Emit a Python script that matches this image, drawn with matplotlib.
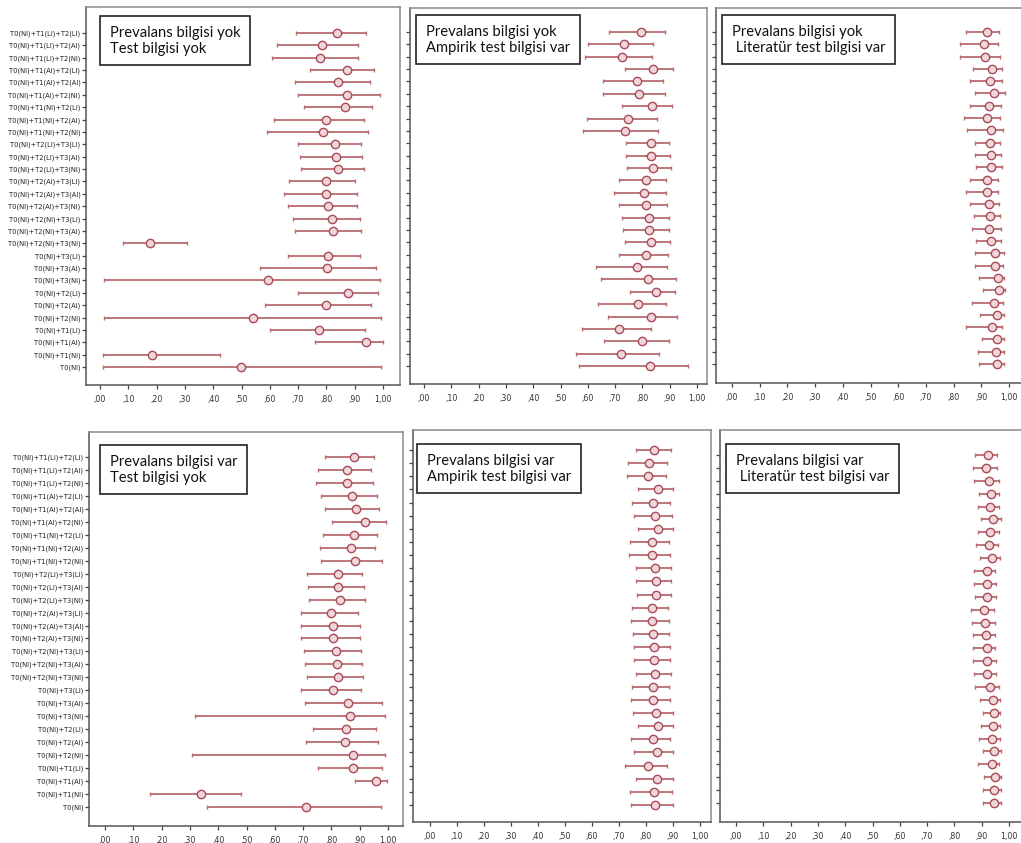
import matplotlib
matplotlib.use("Agg")
import matplotlib.pyplot as plt
import numpy as np
from matplotlib import font_manager
from matplotlib.ticker import FuncFormatter

# categories, top to bottom
CATEGORIES = [
    "T0(NI)+T1(LI)+T2(LI)", "T0(NI)+T1(LI)+T2(AI)", "T0(NI)+T1(LI)+T2(NI)",
    "T0(NI)+T1(AI)+T2(LI)", "T0(NI)+T1(AI)+T2(AI)", "T0(NI)+T1(AI)+T2(NI)",
    "T0(NI)+T1(NI)+T2(LI)", "T0(NI)+T1(NI)+T2(AI)", "T0(NI)+T1(NI)+T2(NI)",
    "T0(NI)+T2(LI)+T3(LI)", "T0(NI)+T2(LI)+T3(AI)", "T0(NI)+T2(LI)+T3(NI)",
    "T0(NI)+T2(AI)+T3(LI)", "T0(NI)+T2(AI)+T3(AI)", "T0(NI)+T2(AI)+T3(NI)",
    "T0(NI)+T2(NI)+T3(LI)", "T0(NI)+T2(NI)+T3(AI)", "T0(NI)+T2(NI)+T3(NI)",
    "T0(NI)+T3(LI)", "T0(NI)+T3(AI)", "T0(NI)+T3(NI)",
    "T0(NI)+T2(LI)", "T0(NI)+T2(AI)", "T0(NI)+T2(NI)",
    "T0(NI)+T1(LI)", "T0(NI)+T1(AI)", "T0(NI)+T1(NI)", "T0(NI)",
]

TITLES = [
    "Prevalans bilgisi yok\nTest bilgisi yok",
    "Prevalans bilgisi yok\nAmpirik test bilgisi var",
    "Prevalans bilgisi yok\n Literatür test bilgisi var",
    "Prevalans bilgisi var\nTest bilgisi yok",
    "Prevalans bilgisi var\nAmpirik test bilgisi var",
    "Prevalans bilgisi var\n Literatür test bilgisi var",
]

# panel 1: prevalence unknown, no test info
mean_1 = [0.839, 0.786, 0.779, 0.874, 0.842, 0.873, 0.865, 0.798, 0.789,
          0.831, 0.833, 0.840, 0.800, 0.799, 0.805, 0.820, 0.824, 0.175,
          0.806, 0.801, 0.594, 0.875, 0.798, 0.539, 0.773, 0.939, 0.182, 0.498]
low_1 = [0.694, 0.627, 0.608, 0.741, 0.688, 0.700, 0.720, 0.615, 0.591,
         0.698, 0.706, 0.712, 0.668, 0.649, 0.665, 0.682, 0.688, 0.082,
         0.666, 0.565, 0.015, 0.700, 0.582, 0.014, 0.600, 0.761, 0.012, 0.012]
high_1 = [0.939, 0.912, 0.912, 0.968, 0.955, 0.988, 0.961, 0.932, 0.947,
          0.924, 0.927, 0.932, 0.902, 0.908, 0.908, 0.918, 0.921, 0.308,
          0.918, 0.974, 0.991, 0.982, 0.956, 0.992, 0.938, 1.000, 0.424, 0.992]

# panel 2: prevalence unknown, empirical test info
mean_2 = [0.795, 0.733, 0.725, 0.837, 0.780, 0.787, 0.834, 0.747, 0.737,
          0.831, 0.833, 0.837, 0.813, 0.807, 0.812, 0.825, 0.826, 0.833,
          0.813, 0.782, 0.819, 0.850, 0.784, 0.831, 0.715, 0.797, 0.722, 0.829]
low_2 = [0.676, 0.599, 0.588, 0.735, 0.655, 0.655, 0.727, 0.597, 0.582,
         0.740, 0.740, 0.743, 0.715, 0.697, 0.713, 0.725, 0.729, 0.735,
         0.713, 0.631, 0.649, 0.753, 0.639, 0.674, 0.578, 0.660, 0.556, 0.566]
high_2 = [0.882, 0.839, 0.835, 0.911, 0.874, 0.884, 0.908, 0.853, 0.856,
          0.899, 0.902, 0.905, 0.886, 0.886, 0.890, 0.899, 0.899, 0.902,
          0.892, 0.890, 0.923, 0.921, 0.886, 0.927, 0.831, 0.896, 0.862, 0.966]

# panel 3: prevalence unknown, literature test info
mean_3 = [0.920, 0.908, 0.914, 0.939, 0.932, 0.946, 0.929, 0.919, 0.936,
          0.931, 0.934, 0.936, 0.921, 0.919, 0.927, 0.932, 0.929, 0.936,
          0.949, 0.951, 0.959, 0.964, 0.945, 0.956, 0.938, 0.956, 0.953, 0.956]
low_3 = [0.844, 0.822, 0.822, 0.871, 0.859, 0.876, 0.859, 0.838, 0.847,
         0.879, 0.879, 0.882, 0.861, 0.844, 0.861, 0.873, 0.867, 0.882,
         0.876, 0.876, 0.892, 0.906, 0.866, 0.894, 0.844, 0.902, 0.888, 0.892]
high_3 = [0.965, 0.959, 0.968, 0.976, 0.974, 0.986, 0.971, 0.968, 0.979,
          0.968, 0.972, 0.974, 0.962, 0.961, 0.965, 0.967, 0.971, 0.971,
          0.982, 0.979, 0.982, 0.986, 0.979, 0.982, 0.976, 0.982, 0.982, 0.982]

# panel 4: prevalence known, no test info
mean_4 = [0.879, 0.856, 0.856, 0.873, 0.886, 0.918, 0.879, 0.868, 0.885,
          0.824, 0.825, 0.829, 0.800, 0.806, 0.806, 0.815, 0.821, 0.824,
          0.806, 0.859, 0.867, 0.853, 0.847, 0.876, 0.876, 0.956, 0.339, 0.712]
low_4 = [0.776, 0.753, 0.747, 0.762, 0.779, 0.802, 0.771, 0.761, 0.765,
         0.715, 0.718, 0.721, 0.694, 0.694, 0.694, 0.702, 0.708, 0.714,
         0.694, 0.708, 0.318, 0.735, 0.712, 0.309, 0.753, 0.882, 0.159, 0.361]
high_4 = [0.951, 0.939, 0.947, 0.961, 0.968, 0.992, 0.961, 0.955, 0.980,
          0.908, 0.914, 0.918, 0.894, 0.902, 0.900, 0.906, 0.909, 0.912,
          0.904, 0.979, 0.988, 0.956, 0.965, 0.988, 0.980, 0.996, 0.479, 0.976]

# panel 5: prevalence known, empirical test info
mean_5 = [0.831, 0.811, 0.809, 0.843, 0.827, 0.833, 0.843, 0.821, 0.823,
          0.833, 0.836, 0.837, 0.823, 0.823, 0.826, 0.830, 0.831, 0.833,
          0.825, 0.827, 0.836, 0.843, 0.825, 0.840, 0.809, 0.840, 0.830, 0.833]
low_5 = [0.762, 0.732, 0.728, 0.769, 0.749, 0.756, 0.769, 0.741, 0.738,
         0.762, 0.763, 0.765, 0.749, 0.744, 0.751, 0.756, 0.757, 0.762,
         0.749, 0.744, 0.753, 0.769, 0.743, 0.757, 0.722, 0.763, 0.741, 0.743]
high_5 = [0.891, 0.877, 0.873, 0.899, 0.889, 0.895, 0.899, 0.886, 0.889,
          0.891, 0.891, 0.893, 0.883, 0.885, 0.886, 0.889, 0.889, 0.891,
          0.886, 0.889, 0.899, 0.901, 0.889, 0.901, 0.877, 0.901, 0.895, 0.899]

# panel 6: prevalence known, literature test info
mean_6 = [0.924, 0.917, 0.925, 0.935, 0.932, 0.942, 0.931, 0.928, 0.936,
          0.918, 0.920, 0.921, 0.909, 0.913, 0.916, 0.918, 0.918, 0.919,
          0.931, 0.942, 0.945, 0.943, 0.939, 0.945, 0.938, 0.948, 0.946, 0.946]
low_6 = [0.875, 0.869, 0.873, 0.891, 0.885, 0.899, 0.885, 0.878, 0.894,
         0.873, 0.873, 0.875, 0.861, 0.863, 0.867, 0.869, 0.869, 0.873,
         0.875, 0.895, 0.905, 0.899, 0.891, 0.903, 0.887, 0.907, 0.905, 0.905]
high_6 = [0.956, 0.955, 0.962, 0.964, 0.964, 0.970, 0.962, 0.961, 0.968,
          0.950, 0.952, 0.952, 0.944, 0.950, 0.950, 0.950, 0.952, 0.952,
          0.964, 0.968, 0.968, 0.968, 0.968, 0.970, 0.964, 0.970, 0.970, 0.970]

SERIES = [
    (mean_1, low_1, high_1), (mean_2, low_2, high_2), (mean_3, low_3, high_3),
    (mean_4, low_4, high_4), (mean_5, low_5, high_5), (mean_6, low_6, high_6),
]
X_TICKS = [0.0, 0.1, 0.2, 0.3, 0.4, 0.5, 0.6, 0.7, 0.8, 0.9, 1.0]

# layout in pixels: frame left/right/top/bottom, px of x=0 and x=1,
# px of first and last row, and the label box top-left corner
FIG_W, FIG_H = 1021, 843
PANELS = [
    dict(l=86, r=400, t=7, b=385, x0=100, x1=383, y0=33, y1=367, box=(100, 17)),
    dict(l=410, r=707, t=8, b=384, x0=424, x1=697, y0=32, y1=366, box=(416, 16)),
    dict(l=716, r=1021, t=8, b=383, x0=732, x1=1009, y0=32, y1=364, box=(722, 16)),
    dict(l=89, r=403, t=432, b=826, x0=105, x1=388, y0=457, y1=807, box=(100, 446)),
    dict(l=413, r=711, t=430, b=822, x0=430, x1=700, y0=450, y1=805, box=(417, 445)),
    dict(l=720, r=1021, t=430, b=822, x0=736, x1=1009, y0=455, y1=803, box=(726, 445)),
]

LINE_COLOR = "#b86b70"
MARKER_EDGE = "#a84c58"
MARKER_FACE = "#f0d6d8"
CAP_COLOR = "#6e5a5c"
SPINE_COLOR = "#555555"

fonts = font_manager.fontManager.ttflist
available = {f.name for f in fonts}
has_dejavu_condensed = any(f.name == "DejaVu Sans" and f.stretch == "condensed" for f in fonts)
if "Liberation Sans Narrow" in available:
    TICK_FONT = dict(family="Liberation Sans Narrow", fontsize=6.0)
elif has_dejavu_condensed:
    TICK_FONT = dict(family="DejaVu Sans", fontstretch="condensed", fontsize=5.4)
else:
    TICK_FONT = dict(family="Liberation Sans", fontsize=5.15)
BOX_FONT = "Lato" if "Lato" in available else "DejaVu Sans"


def comma_fmt(v, _pos):
    s = f"{v:.2f}".replace(".", ",")
    if s.startswith("0,"):
        s = s[1:]
    return s


def draw_panel(fig, idx):
    p = PANELS[idx]
    means, lows, highs = (np.asarray(a) for a in SERIES[idx])
    ax = fig.add_axes([
        p["l"] / FIG_W,
        1 - p["b"] / FIG_H,
        (p["r"] - p["l"]) / FIG_W,
        (p["b"] - p["t"]) / FIG_H,
    ])

    unit = p["x1"] - p["x0"]
    ax.set_xlim((p["l"] - p["x0"]) / unit, (p["r"] - p["x0"]) / unit)
    step = (p["y1"] - p["y0"]) / (len(CATEGORIES) - 1)
    ax.set_ylim(len(CATEGORIES) - 1 + (p["b"] - p["y1"]) / step,
                -(p["y0"] - p["t"]) / step)

    y = np.arange(len(CATEGORIES))
    _line, caps, _bars = ax.errorbar(
        means, y, xerr=[means - lows, highs - means],
        fmt="o", color=LINE_COLOR, ecolor=LINE_COLOR, elinewidth=1.3,
        capsize=1.6, capthick=1.2, markersize=6,
        markeredgecolor=MARKER_EDGE, markerfacecolor=MARKER_FACE,
        markeredgewidth=1.0, zorder=3,
    )
    for c in caps:
        c.set_color(CAP_COLOR)

    ax.set_yticks(y)
    if idx % 3 == 0:
        ax.set_yticklabels(CATEGORIES, color="#222222", **TICK_FONT)
    else:
        ax.set_yticklabels([])
    ax.set_xticks(X_TICKS)
    ax.xaxis.set_major_formatter(FuncFormatter(comma_fmt))
    for lab in ax.get_xticklabels():
        lab.set_fontsize(6.3)
        lab.set_family(TICK_FONT["family"])
        if "fontstretch" in TICK_FONT:
            lab.set_fontstretch(TICK_FONT["fontstretch"])
        lab.set_color("#333333")
    ax.tick_params(axis="both", length=3, width=0.9, color="#444444", pad=1)
    ax.tick_params(axis="x", pad=4)

    for side in ("left", "bottom"):
        ax.spines[side].set_color(SPINE_COLOR)
        ax.spines[side].set_linewidth(1.1)
    for side in ("top", "right"):
        ax.spines[side].set_color("#8a8a8a")
        ax.spines[side].set_linewidth(1.1)
    if idx % 3 == 2:
        # the right-hand charts run off the edge of the page
        ax.spines["right"].set_visible(False)

    bx, by = p["box"]
    ax.text(
        (bx - p["l"] + 10) / (p["r"] - p["l"]),
        1 - (by - p["t"] + 9) / (p["b"] - p["t"]),
        TITLES[idx], transform=ax.transAxes, ha="left", va="top",
        fontsize=10.6, family=BOX_FONT, color="#111111", linespacing=1.15,
        bbox=dict(boxstyle="square,pad=0.65", facecolor="white",
                  edgecolor="#222222", linewidth=1.2),
        zorder=5,
    )
    return ax


def main():
    fig = plt.figure(figsize=(FIG_W / 100, FIG_H / 100), dpi=100)
    fig.patch.set_facecolor("white")
    for i in range(len(PANELS)):
        draw_panel(fig, i)
    fig.savefig("out.png", dpi=100)
    plt.close(fig)


if __name__ == "__main__":
    main()
